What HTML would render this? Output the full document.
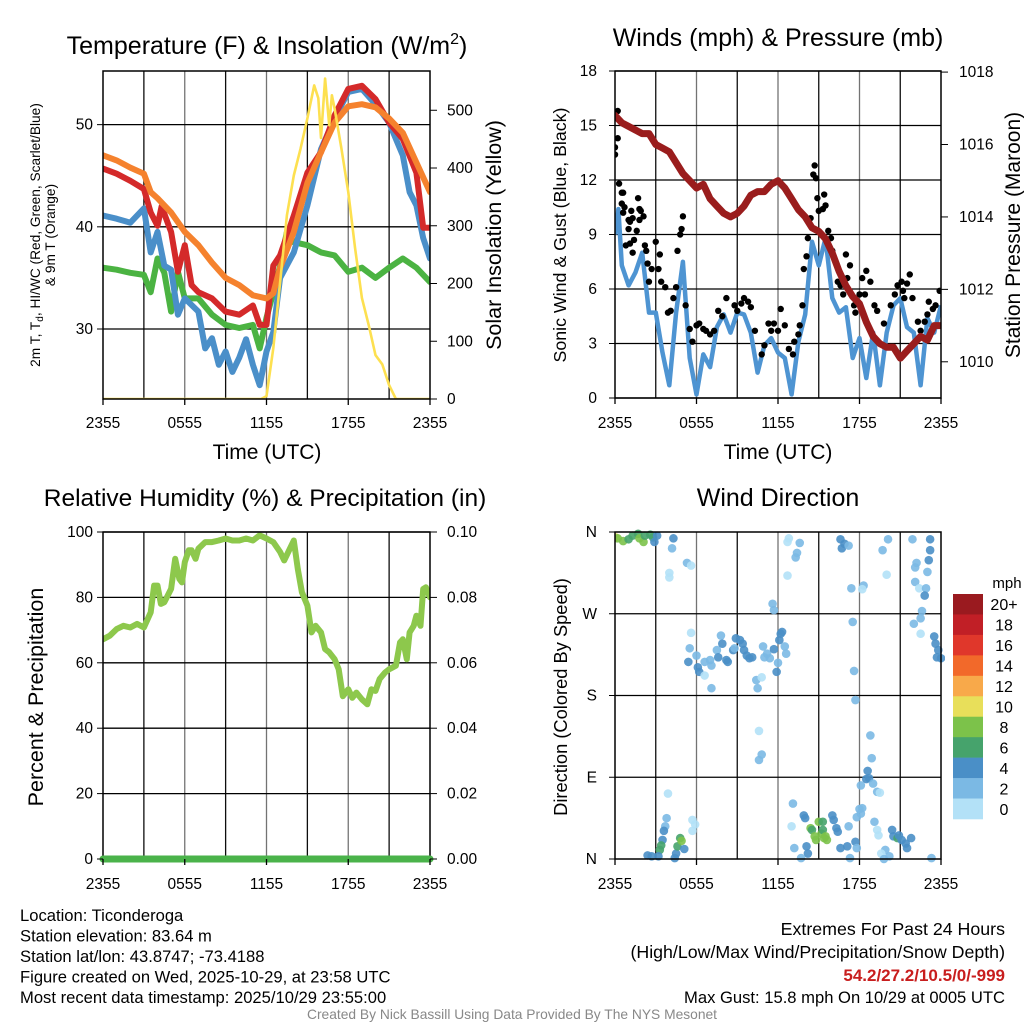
<!DOCTYPE html>
<html><head><meta charset="utf-8">
<style>
html,body{margin:0;padding:0;background:#fff;}
svg{display:block;font-family:"Liberation Sans",sans-serif;}
</style></head>
<body>
<svg id="chart" width="1024" height="1024" viewBox="0 0 1024 1024" xmlns="http://www.w3.org/2000/svg">
<defs>
<clipPath id="c1"><rect x="103" y="71" width="327" height="328"/></clipPath>
<clipPath id="c2"><rect x="615" y="71" width="326" height="327"/></clipPath>
<clipPath id="c3"><rect x="103" y="532" width="327" height="330"/></clipPath>
<clipPath id="c4"><rect x="615" y="528" width="330" height="336"/></clipPath>
</defs>
<g id="root"></g>
</svg>
<script>
// ---------- DATA ----------
const xTickLabels = ["2355","0555","1155","1755","2355"];
// Temperature panel
const redT = [0,1,2,3,3.5,4,4.3,5,5.5,6,6.5,7,8,9,10,11,11.5,12,12.5,13,14,15,16,17,18,19,20,21,22,23,23.5,24];
const redV = [45.7,45.2,44.5,43.7,41.4,40.1,42,39.5,35.6,38.2,34.3,33.6,33,31.7,31.4,32.3,30.4,30.4,36.2,37.2,41.1,45.3,47.3,50.9,53.5,53.8,52.5,50.2,48.6,45.3,39.9,39.9];
const orangeT = [0,1,2,3,3.5,4,5,6,7,8,9,10,11,12,12.5,13,14,15,16,17,18,19,20,21,22,23,24];
const orangeV = [47,46.5,45.8,45.2,43.4,42.8,41.4,39.5,38.2,36.5,35,34.3,33.3,33,33.5,36,39.5,44.3,47.3,50.2,51.8,52,51.7,50.6,49.2,46.3,43.4];
const blueT = [0,1,2,3,3.5,4,4.5,5,5.5,6,7,7.5,8,8.5,9,9.5,10,10.5,11,11.5,12,12.5,13,14,15,16,17,18,19,20,21,21.5,22,22.5,23,23.5,24];
const blueV = [41.1,40.8,40.4,41.8,37.5,39.5,36.2,35.8,31.4,33,31.7,28.1,29.1,26.5,27.8,25.8,27.2,29,26.5,24.5,27.8,29.7,35,37.5,42.1,47.6,50.6,53.2,53.5,52,50.2,48.6,47,43.4,42.1,38.9,36.9];
const greenT = [0,1,2,3,3.5,4,4.5,5,5.5,6,7,8,9,10,11,11.5,12,12.5,13,13.5,14,15,16,17,18,19,20,21,22,23,24];
const greenV = [36,35.8,35.5,35.3,33.6,36.9,35.5,31.7,35.6,33,33,31.4,30.4,30.1,30.4,28.1,31.1,33.6,36.2,39.5,38.5,38.2,37.5,37.2,35.6,36,35,36,36.9,36,34.6];
const solarT = [0,11.6,12,12.5,13,13.5,14,14.5,15,15.5,15.8,16,16.3,16.6,16.8,17,17.5,18,18.5,19,19.5,20,20.5,21,21.5,24];
const solarV = [0,0,5,88,202,318,387,434,486,543,521,452,555,474,526,503,434,358,261,175,128,76,60,24,0,0];
const tempTicks = [30,40,50];
const solarTicks = [0,100,200,300,400,500];
// Wind panel
const windT = [0,0.25,0.5,1,1.5,2,2.5,3,3.5,4,4.5,5,5.5,6,6.5,7,7.5,8,8.5,9,9.5,10,10.5,11,11.5,12,12.5,13,13.5,14,14.5,15,15.5,16,16.5,17,17.5,18,18.5,19,19.5,20,20.5,21,21.5,22,22.5,23,23.5,24];
const windV = [9,10.4,7.3,6.2,6.9,8.0,4.7,4.7,2.5,0.7,4.7,7.5,2.2,0.2,2.4,1.7,3.9,4.6,3.6,4.7,4.6,3.6,1.4,2.9,3.3,2.5,2.2,0.2,3.1,4.6,8.6,7.3,8.8,5.5,4.7,5.0,2.2,3.3,1.1,3.6,0.7,3.6,5.1,5.5,3.9,3.6,0.7,4.4,3.6,5.1];
const gustT = [0,0,0.2,0.2,0.3,0.5,0.6,0.5,0.7,0.6,1.0,1.1,1.2,1.3,1.0,0.8,1.1,1.3,1.4,1.6,1.7,1.8,1.9,2.1,1.8,2.2,2.3,2.4,2.7,2.5,3.0,3.3,3.2,3.4,3.7,3.9,4.1,4.3,4.5,4.6,4.8,4.9,5.0,5.2,5.5,5.7,6.0,6.2,6.5,6.7,7.0,7.3,7.6,7.9,8.2,8.8,9.0,9.3,9.5,9.8,10.0,10.3,10.8,11.0,11.3,11.5,11.7,12.0,12.2,12.5,12.8,13.1,13.2,13.5,13.6,13.8,13.9,14.1,14.2,14.4,14.6,14.7,14.8,14.9,15.0,15.3,15.4,15.5,15.7,15.9,16.0,16.4,16.6,16.8,17.0,17.1,17.3,17.4,17.6,17.7,18.0,18.2,18.4,18.5,18.8,19.1,19.3,19.8,20.3,20.6,20.8,21.1,21.2,21.3,21.7,21.5,21.9,22.3,22.5,22.8,23.0,23.1,23.4,23.6,23.9];
const gustV = [13.8,13.4,15.8,14.3,11.8,11.3,11.3,10.7,10.5,10.2,9.8,9.7,10.3,9.9,9.3,8.4,8.5,8.0,8.7,9.2,11.0,10.4,10.3,10.0,9.8,8.4,8.1,7.4,7.1,6.4,8.6,7.9,7.1,6.4,6.1,4.7,4.8,5.5,6.1,8.1,9.0,9.3,10.0,5.1,3.8,3.1,4.0,4.1,3.8,3.7,3.5,3.7,4.8,4.5,5.5,5.1,4.8,5.2,5.5,5.3,5.0,3.7,2.4,2.9,4.1,3.7,4.1,3.7,4.9,4.0,2.7,2.4,3.1,3.5,4.0,5.1,7.1,7.8,8.8,9.9,12.3,12.8,12.1,11.0,10.3,10.4,11.2,10.6,9.2,8.8,8.1,6.4,6.2,5.7,7.9,6.6,7.3,5.7,5.1,4.7,5.7,6.6,5.7,7.0,6.4,5.1,4.8,4.1,5.1,5.7,6.2,6.4,5.9,5.5,6.8,6.3,5.5,4.2,3.7,4.2,4.6,5.3,4.9,5.1,5.9];
const presT = [0,0.5,1,1.5,2,2.5,3,3.5,4,4.5,5,5.5,6,6.5,7,7.5,8,8.5,9,9.5,10,10.5,11,11.5,12,12.5,13,13.5,14,14.5,15,15.5,16,16.5,17,17.5,18,18.5,19,19.5,20,20.5,21,21.5,22,22.5,23,23.5,24];
const presV = [1016.8,1016.6,1016.5,1016.4,1016.3,1016.3,1016.0,1015.9,1015.8,1015.5,1015.2,1015.0,1014.8,1014.9,1014.5,1014.3,1014.1,1014.0,1014.1,1014.3,1014.6,1014.7,1014.7,1014.9,1015.0,1014.8,1014.5,1014.2,1014.0,1013.7,1013.6,1013.4,1013.0,1012.5,1012.1,1011.8,1011.6,1011.1,1010.7,1010.5,1010.4,1010.4,1010.1,1010.3,1010.5,1010.7,1010.6,1011.0,1011.0];
const windTicks = [0,3,6,9,12,15,18];
const presTicks = [1010,1012,1014,1016,1018];
// RH panel
const rhT = [0,0.5,1,1.5,2,2.5,3,3.5,3.75,4,4.25,4.5,5,5.3,5.6,5.8,6,6.3,6.5,6.8,7,7.5,8,8.5,9,9.5,10,10.5,11,11.5,12,12.5,13,13.3,13.6,14,14.3,14.6,15,15.3,15.6,16,16.3,16.6,17,17.3,17.6,18,18.3,18.6,19,19.4,19.7,20,20.3,20.7,21,21.5,21.8,22,22.3,22.5,22.8,23,23.3,23.5,23.7,24];
const rhV = [67.2,68.3,70.3,71.3,70.8,71.9,70.8,75.4,83.6,83.6,78,78.5,82.6,91.8,85.7,84.6,90.8,94.4,94.4,91.8,94.9,96.9,96.9,97.4,98,97.4,97.4,98,97.4,99,98,96.9,93.9,91.3,93.9,97.4,88.7,81.6,77.5,69.3,71.3,69.3,64.2,63.2,61.1,58,49.8,51.9,49.3,50.9,48.8,47.3,51.9,51.4,55,57,58,59.1,66.2,67.2,61.1,69.3,71.3,74.4,71.3,82.6,83.1,80];
const precipT = [0,24];
const precipV = [0,0];
const rhTicks = [0,20,40,60,80,100];
const precipTicks = ["0.00","0.02","0.04","0.06","0.08","0.10"];
// Wind direction panel
const dirT = [0.05,0.2,0.6,1.0,1.3,1.7,1.8,2.1,2.2,2.6,2.8,2.9,3.1,4.3,4.2,5.3,5.6,4.0,4.0,12.8,12.7,13.6,13.4,13.3,12.7,11.6,11.7,16.6,16.7,16.9,17.2,19.7,20.1,20.0,17.4,18.3,18.2,17.5,21.9,23.2,23.2,23.1,22.2,22.1,23.0,22.1,22.4,22.9,22.8,22.6,22.5,22.0,22.5,23.5,23.6,23.8,23.7,24.0,
5.6,5.5,5.4,6.0,6.1,6.2,6.6,6.6,7.1,7.0,7.5,7.6,7.8,7.9,8.2,8.3,8.7,8.8,8.9,9.2,9.4,9.5,9.7,9.9,10.1,10.4,10.5,10.9,11.0,11.2,11.4,11.7,12.0,11.9,12.1,12.2,12.3,12.5,12.6,10.8,7.1,17.6,17.7,10.6,10.8,10.6,18.8,18.9,18.6,18.7,18.5,19.0,18.1,19.3,19.5,
3.9,3.8,3.7,3.6,3.5,3.4,3.3,2.4,2.7,3.2,4.4,4.5,4.6,4.8,4.9,5.1,5.7,5.9,5.7,
13.1,13.9,14.0,13.0,13.2,14.1,14.2,13.7,14.4,14.5,14.7,14.8,15.0,15.2,15.3,15.4,15.5,15.6,15.3,16.0,16.1,16.3,16.4,16.6,17.1,17.2,17.7,17.8,18.0,18.2,18.1,17.8,17.3,19.1,19.3,19.4,19.9,20.2,19.6,19.8,20.4,20.5,20.8,20.9,21.4,21.5,21.8,21.1,23.3];
const dirV = [354,353,350,352,356,358,353,349,356,357,354,349,356,353,342,326,323,315,310,353,349,348,337,332,312,281,274,352,342,347,345,340,352,313,298,301,297,261,352,352,340,329,326,321,316,305,298,298,290,273,265,259,248,245,237,230,222,221,
249,232,217,224,211,206,202,217,213,219,230,222,246,237,219,217,230,232,243,241,237,230,224,221,222,197,188,234,222,226,221,231,216,206,241,248,250,234,226,200,188,207,175,141,115,109,136,111,97,89,88,83,81,74,73,
72,45,36,31,21,15,10,4,3,3,1,6,14,23,20,11,43,38,31,
61,48,45,36,12,14,6,1,34,32,25,21,41,28,32,23,25,21,41,48,43,34,30,12,14,36,19,12,55,56,50,46,1,41,32,26,10,3,6,0,32,25,23,26,17,12,23,21,1];
const dirSpd = [10.5,9,9,7,7,7,9,9,7,7,7,5,5,5,3,3,1,1,1,1,1,3,3,3,1,3,3,5,5,5,3,3,3,1,3,3,1,3,3,5,5,5,3,3,3,3,1,3,5,3,3,3,1,5,5,5,5,5,
1,3,5,3,5,5,1,3,3,3,3,5,3,5,5,5,5,3,5,5,5,5,5,5,5,3,3,3,3,3,3,5,3,5,5,5,5,3,3,1,3,3,3,1,3,3,3,3,5,5,5,3,3,3,1,
1,3,3,5,5,7,7,5,5,5,5,5,7,7,9,5,1,1,1,
3,5,5,1,3,5,5,3,9,7,9,9,9,9,7,9,9,9,7,5,5,5,5,5,5,3,5,3,3,3,3,3,3,3,1,1,3,3,1,3,5,5,7,5,5,5,5,5,3];
const dirTicks = ["N","E","S","W","N"];
const cbLabels = ["20+","18","16","14","12","10","8","6","4","2","0"];
const cbColors = ["#9a1a1f","#c11f26","#e0372b","#f2692a","#f8a94a","#e8df5a","#7cc24a","#46a36c","#4a8fc7","#7bb9e4","#b3e1f7"];

// ---------- HELPERS ----------
const NS = "http://www.w3.org/2000/svg";
const root = document.getElementById("root");
function el(tag, attrs, parent, text){
  const e = document.createElementNS(NS, tag);
  for (const k in attrs) e.setAttribute(k, attrs[k]);
  if (text !== undefined) e.textContent = text;
  (parent || root).appendChild(e);
  return e;
}
function lin(d0,d1,r0,r1){ return v => r0 + (v-d0)/(d1-d0)*(r1-r0); }
function pathD(ts, vs, sx, sy){ return ts.map((t,i)=>(i?"L":"M")+sx(t).toFixed(1)+","+sy(vs[i]).toFixed(1)).join(""); }

function frame(P, name){
  const g = el("g", {});
  
  
  for (let h=3; h<24; h+=3){
    const x = P.sx(h);
    el("line",{x1:x,x2:x,y1:P.y0,y2:P.y1,stroke:"#000","stroke-width":1.3,"stroke-opacity":h%6===0?0.55:0.95},g);
  }
  return g;
}
function hgrid(P, yvals){
  const g = el("g",{});
  
  
  yvals.forEach(y=>el("line",{x1:P.x0,x2:P.x1,y1:y,y2:y,stroke:"#000","stroke-width":1.3},g));
}
function border(P){
  const r = el("rect",{x:P.x0,y:P.y0,width:P.x1-P.x0,height:P.y1-P.y0,fill:"none",stroke:"#000","stroke-width":1.5});
  
  
}
function xAxis(P, yLab){
  const g = el("g",{});
  
  
  xTickLabels.forEach((lab,i)=>{
    const x = P.sx(i*6);
    el("line",{x1:x,x2:x,y1:P.y1,y2:P.y1+6,stroke:"#000","stroke-width":1.3},g);
    const t = el("text",{x:x,y:yLab,"font-size":15.5,"text-anchor":"middle"},g,lab);
    
    
  });
}
function txt(x,y,s,size,name,extra){
  const a = Object.assign({x:x,y:y,"font-size":size,"text-anchor":"middle",fill:"#000"}, extra||{});
  const t = el("text",a,root,s);
  
  
  return t;
}
function vtxt(x,y,s,size,name,rot){
  const t = el("text",{x:0,y:0,"font-size":size,"text-anchor":"middle",transform:`translate(${x},${y}) rotate(${rot})`},root,s);
  
  
  return t;
}
const TK = 15.5;

// ---------- PANEL 1: Temperature ----------
{
  const P = {x0:103,x1:430,y0:71,y1:399};
  P.sx = lin(0,24,P.x0,P.x1);
  const sy = lin(23.15,55.25,P.y1,P.y0);
  const sr = lin(0,568,P.y1,P.y0);
  frame(P,'temperature');
  hgrid(P, tempTicks.map(sy));
  const g = el("g",{"clip-path":"url(#c1)"});
  const series = [[greenT,greenV,"#4bb342","green-dewpoint-line"],[blueT,blueV,"#4a8fc9","blue-windchill-line"],[redT,redV,"#d42a2a","red-temperature-line"],[orangeT,orangeV,"#f5822e","orange-9m-temperature-line"]];
  series.forEach(s=>{
    const p = el("path",{d:pathD(s[0],s[1],P.sx,sy),fill:"none",stroke:s[2],"stroke-width":6,"stroke-linejoin":"round","stroke-linecap":"round"},g);
    
    
  });
  const ys = el("path",{d:pathD(solarT,solarV,P.sx,sr),fill:"none",stroke:"#fde050","stroke-width":2.6,"stroke-linejoin":"round"},g);
  
  
  border(P);
  tempTicks.forEach(v=>{ txt(93,sy(v)+5,String(v),TK,'y-tick-label',{"text-anchor":"end"}); el("line",{x1:P.x0-6,x2:P.x0,y1:sy(v),y2:sy(v),stroke:"#000"}); });
  solarTicks.forEach(v=>{ txt(447,sr(v)+5,String(v),TK,'right-tick-label',{"text-anchor":"start"}); el("line",{x1:P.x1,x2:P.x1+7,y1:sr(v),y2:sr(v),stroke:"#000"}); });
  xAxis(P,428);
  const t = txt(267,54,"Temperature (F) & Insolation (W/m",25,'temperature-title');
  const sup = el("tspan",{"font-size":16,dy:-10},t,"2");  
  const cl = el("tspan",{dy:10},t,")");  
  txt(267,459,"Time (UTC)",21,'x-axis-title');
  const lt = vtxt(40,235,"",13.7,'left-axis-title-line1',-90);
  lt.innerHTML = '2m T, T<tspan font-size="10" dy="3">d</tspan><tspan dy="-3">, HI/WC (Red, Green, Scarlet/Blue)</tspan>';
  vtxt(55,235,"& 9m T (Orange)",13.7,'left-axis-title-line2',-90);
  vtxt(501,235,"Solar Insolation (Yellow)",21.5,'right-axis-title',-90);
}

// ---------- PANEL 2: Winds ----------
{
  const P = {x0:615,x1:941,y0:71,y1:398};
  P.sx = lin(0,24,P.x0,P.x1);
  const sy = lin(0,18,P.y1,P.y0);
  const sp = lin(1009.0,1018.03,P.y1,P.y0);
  frame(P,'winds');
  hgrid(P, windTicks.map(sy));
  const g = el("g",{"clip-path":"url(#c2)"});
  const wl = el("path",{d:pathD(windT,windV,P.sx,sy),fill:"none",stroke:"#4e94d2","stroke-width":4.5,"stroke-linejoin":"round"},g);
  
  
  gustT.forEach((t,i)=>{
    const c = el("circle",{cx:P.sx(t),cy:sy(gustV[i]),r:3.2,fill:"#000"},g);
    
    
  });
  const pl = el("path",{d:pathD(presT,presV,P.sx,sp),fill:"none",stroke:"#9a1d1d","stroke-width":7,"stroke-linejoin":"round","stroke-linecap":"round"},g);
  
  
  border(P);
  windTicks.forEach(v=>{ txt(597,sy(v)+5,String(v),TK,'y-tick-label',{"text-anchor":"end"}); el("line",{x1:P.x0-6,x2:P.x0,y1:sy(v),y2:sy(v),stroke:"#000"}); });
  presTicks.forEach(v=>{ txt(959,sp(v)+5,String(v),TK,'right-tick-label',{"text-anchor":"start"}); el("line",{x1:P.x1,x2:P.x1+7,y1:sp(v),y2:sp(v),stroke:"#000"}); });
  xAxis(P,428);
  txt(778,46,"Winds (mph) & Pressure (mb)",25,'winds-title');
  txt(778,459,"Time (UTC)",21,'x-axis-title');
  vtxt(566,235,"Sonic Wind & Gust (Blue, Black)",17.8,'left-axis-title',-90);
  vtxt(1020,235,"Station Pressure (Maroon)",21,'right-axis-title',-90);
}

// ---------- PANEL 3: RH ----------
{
  const P = {x0:103,x1:430,y0:532,y1:859};
  P.sx = lin(0,24,P.x0,P.x1);
  const sy = lin(0,100,P.y1,P.y0);
  frame(P,'humidity');
  hgrid(P, rhTicks.map(sy));
  const g = el("g",{"clip-path":"url(#c3)"});
  const rl = el("path",{d:pathD(rhT,rhV,P.sx,sy),fill:"none",stroke:"#8dc84c","stroke-width":6,"stroke-linejoin":"round","stroke-linecap":"round"},g);
  
  
  border(P);
  const spc = lin(0,0.10,P.y1,P.y0);
  const pr = el("path",{d:pathD(precipT,precipV,P.sx,spc),fill:"none",stroke:"#4ab34a","stroke-width":7,"stroke-linecap":"round"});
  
  
  rhTicks.forEach(v=>{ txt(93,sy(v)+5,String(v),TK,'y-tick-label',{"text-anchor":"end"}); el("line",{x1:P.x0-6,x2:P.x0,y1:sy(v),y2:sy(v),stroke:"#000"}); });
  precipTicks.forEach((s,i)=>{ const y = spc(parseFloat(s)); txt(447,y+5,s,TK,'right-tick-label',{"text-anchor":"start"}); el("line",{x1:P.x1,x2:P.x1+7,y1:y,y2:y,stroke:"#000"}); });
  xAxis(P,889);
  txt(265,506,"Relative Humidity (%) & Precipitation (in)",24.5,'humidity-title');
  vtxt(43,697,"Percent & Precipitation",21.5,'left-axis-title',-90);
}

// ---------- PANEL 4: Wind Direction ----------
{
  const P = {x0:615,x1:941,y0:532,y1:859};
  P.sx = lin(0,24,P.x0,P.x1);
  const sy = lin(0,360,P.y1,P.y0);
  frame(P,'direction');
  hgrid(P, [90,180,270].map(sy));
  const g = el("g",{"clip-path":"url(#c4)"});
  function col(s){ const idx = Math.min(10, Math.floor(s/2)); return cbColors[10-idx]; }
  dirT.forEach((t,i)=>{
    const c = el("circle",{cx:P.sx(t),cy:sy(dirV[i]),r:4.3,fill:col(dirSpd[i]),"fill-opacity":0.9},g);
    
    
  });
  border(P);
  dirTicks.forEach((s,i)=>{ const y = sy(i*90); txt(597,y+5,s,TK,'y-tick-label',{"text-anchor":"end"}); el("line",{x1:P.x0-6,x2:P.x0,y1:y,y2:y,stroke:"#000"}); });
  xAxis(P,889);
  txt(778,506,"Wind Direction",25,'direction-title');
  vtxt(567,697,"Direction (Colored By Speed)",18.3,'left-axis-title',-90);
  // colorbar
  const cb = el("g",{});
  
  
  const h = 225/11;
  cbColors.forEach((c,i)=>{
    const r = el("rect",{x:953,y:594+i*h,width:30,height:h+0.3,fill:c},cb);
    
    
    txt(1004,594+i*h+h/2+6,cbLabels[i],16,'colorbar-label');
  });
  txt(1007,588,"mph",15,'colorbar-unit');
}

// ---------- FOOTER TEXT ----------
const leftLines = ["Location: Ticonderoga","Station elevation: 83.64 m","Station lat/lon: 43.8747; -73.4188","Figure created on Wed, 2025-10-29, at 23:58 UTC","Most recent data timestamp: 2025/10/29 23:55:00"];
leftLines.forEach((s,i)=>txt(20,921+i*20.5,s,16.6,'station-info-line',{"text-anchor":"start"}));
txt(1005,935,"Extremes For Past 24 Hours",17.8,'extremes-heading',{"text-anchor":"end"});
txt(1005,958,"(High/Low/Max Wind/Precipitation/Snow Depth)",17.8,'extremes-legend',{"text-anchor":"end"});
txt(1005,981,"54.2/27.2/10.5/0/-999",17,'extremes-values',{"text-anchor":"end",fill:"#c81e1e","font-weight":"bold"});
txt(1005,1003,"Max Gust: 15.8 mph On 10/29 at 0005 UTC",16.6,'max-gust',{"text-anchor":"end"});
txt(512,1019,"Created By Nick Bassill Using Data Provided By The NYS Mesonet",13.8,'credit',{fill:"#888"});
</script>
</body></html>
